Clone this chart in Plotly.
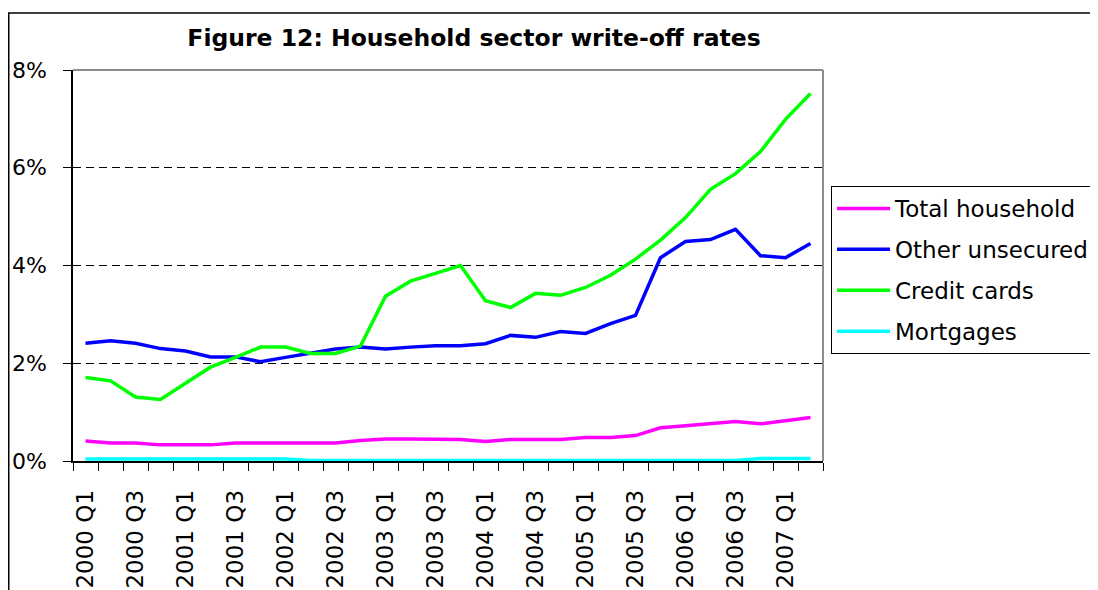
import plotly.graph_objects as go

quarters = [
    "2000 Q1", "2000 Q2", "2000 Q3", "2000 Q4",
    "2001 Q1", "2001 Q2", "2001 Q3", "2001 Q4",
    "2002 Q1", "2002 Q2", "2002 Q3", "2002 Q4",
    "2003 Q1", "2003 Q2", "2003 Q3", "2003 Q4",
    "2004 Q1", "2004 Q2", "2004 Q3", "2004 Q4",
    "2005 Q1", "2005 Q2", "2005 Q3", "2005 Q4",
    "2006 Q1", "2006 Q2", "2006 Q3", "2006 Q4",
    "2007 Q1", "2007 Q2",
]

total_household = [0.41, 0.37, 0.37, 0.33, 0.33, 0.33, 0.37, 0.37, 0.37, 0.37,
                   0.37, 0.42, 0.45, 0.45, 0.45, 0.44, 0.40, 0.44, 0.44, 0.44,
                   0.48, 0.48, 0.52, 0.68, 0.72, 0.76, 0.81, 0.76, 0.82, 0.89]
other_unsecured = [2.41, 2.46, 2.41, 2.30, 2.25, 2.13, 2.13, 2.03, 2.12, 2.20,
                   2.29, 2.33, 2.29, 2.33, 2.36, 2.36, 2.40, 2.57, 2.53, 2.65,
                   2.61, 2.81, 2.98, 4.16, 4.49, 4.53, 4.74, 4.20, 4.16, 4.45]
credit_cards = [1.71, 1.64, 1.31, 1.26, 1.59, 1.92, 2.12, 2.33, 2.33, 2.20,
                2.20, 2.35, 3.37, 3.68, 3.84, 4.00, 3.28, 3.14, 3.43, 3.39,
                3.55, 3.80, 4.13, 4.52, 4.98, 5.56, 5.88, 6.33, 6.99, 7.52]
mortgages = [0.04, 0.04, 0.04, 0.04, 0.04, 0.04, 0.04, 0.04, 0.04, 0.01,
             0.01, 0.01, 0.01, 0.01, 0.01, 0.01, 0.01, 0.01, 0.01, 0.01,
             0.01, 0.01, 0.01, 0.01, 0.01, 0.01, 0.01, 0.05, 0.05, 0.05]

series_names = ["Total household", "Other unsecured", "Credit cards", "Mortgages"]
series_values = [total_household, other_unsecured, credit_cards, mortgages]
series_colors = ["#FF00FF", "#0000FF", "#00FF00", "#00FFFF"]

y_ticks = [0, 2, 4, 6, 8]

FONT = "DejaVu Sans"

x_idx = list(range(len(quarters)))

fig = go.Figure()
for name, vals, col in zip(series_names, series_values, series_colors):
    fig.add_trace(go.Scatter(
        x=x_idx, y=vals, mode="lines", name=name, legendgroup=name,
        line=dict(color=col, width=3.5),
    ))

# page body has an 8px margin: figure coords = screen coords - 8
W, H = 1090, 582
L, T = 65, 62
R = W - 815
B = H - 453
pw = W - L - R
ph = H - T - B

fig.update_layout(
    width=W, height=H,
    margin=dict(l=L, r=R, t=T, b=B, pad=0, autoexpand=False),
    paper_bgcolor="white", plot_bgcolor="white",
    title=dict(
        text="<b>Figure 12: Household sector write-off rates</b>",
        font=dict(family=FONT, size=23.5, color="black"),
        x=(466 - L) / pw, xref="paper", xanchor="center",
        y=1 - 29.5 / H, yref="container", yanchor="middle",
        automargin=False,
    ),
    showlegend=True,
    legend=dict(
        x=(823 - L) / pw, xanchor="left",
        y=(453 - 178) / ph, yanchor="top",
        font=dict(family=FONT, size=23, color="black"),
        bordercolor="black", borderwidth=1, bgcolor="white",
        tracegroupgap=8, itemwidth=53,
    ),
    xaxis=dict(
        range=[-0.5, len(quarters) - 0.5],
        tickmode="array",
        tickvals=x_idx[::2],
        ticktext=quarters[::2],
        tickangle=-90,
        ticks="", ticklabelstandoff=18,
        tickfont=dict(family=FONT, size=23, color="black"),
        minor=dict(
            tickmode="array",
            tickvals=[i - 0.5 for i in range(len(quarters) + 1)],
            ticks="outside", ticklen=8, tickcolor="black", tickwidth=1,
            showgrid=False,
        ),
        showgrid=False, zeroline=False,
        showline=True, linecolor="black", linewidth=1.5,
        automargin=False, fixedrange=True,
    ),
    yaxis=dict(
        range=[0, 8],
        tickmode="array", tickvals=y_ticks,
        ticktext=[f"{v}%" for v in y_ticks],
        ticks="outside", ticklen=8, tickcolor="black", tickwidth=1,
        ticklabelstandoff=12,
        tickfont=dict(family=FONT, size=22, color="black"),
        showgrid=True, gridcolor="black", gridwidth=1, griddash="8px,5px",
        zeroline=False,
        showline=True, linecolor="black", linewidth=1.5,
        automargin=False, fixedrange=True,
    ),
    shapes=[
        dict(type="line", xref="paper", yref="paper", x0=0, x1=1, y0=1, y1=1,
             line=dict(color="#8C8C8C", width=2), layer="above"),
        dict(type="line", xref="paper", yref="paper", x0=1, x1=1, y0=0, y1=1,
             line=dict(color="#8C8C8C", width=2), layer="above"),
        dict(type="rect", xref="paper", yref="paper",
             x0=(0.75 - L) / pw, x1=2.0, y0=-1.0, y1=(453 - 5) / ph,
             line=dict(color="black", width=1.5), fillcolor="rgba(0,0,0,0)",
             layer="below"),
    ],
)

fig.write_html("out.html")
